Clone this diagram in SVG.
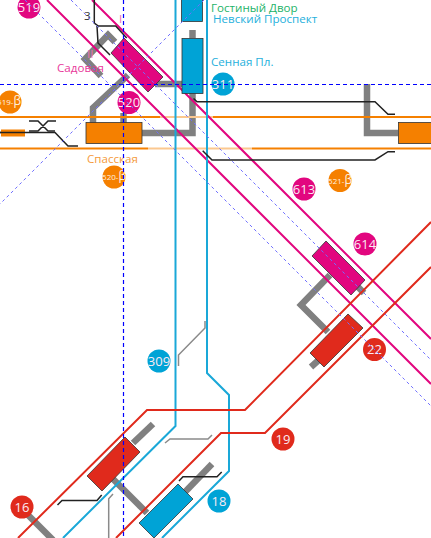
<svg xmlns="http://www.w3.org/2000/svg" width="431" height="538" viewBox="0 0 431 538">
<style>
text{font-family:"Open Sans","Noto Sans",sans-serif}
.lbl{font-size:11.600px}
.n{font-size:13px;fill:#fbeaf3;text-anchor:middle}
.s{font-size:8px;fill:#fff3e0;text-anchor:middle}
.s tspan{font-size:12px}
.g{fill:none;stroke:#808080;stroke-width:6.500;stroke-linejoin:miter}
.tg{fill:none;stroke:#8a8a8a;stroke-width:1.500}
.tb{fill:none;stroke:#222;stroke-width:1.500}
.m{fill:none;stroke:#e2067f;stroke-width:2}
.b{fill:none;stroke:#1aa8d8;stroke-width:2}
.r{fill:none;stroke:#e02a1c;stroke-width:2}
.o{fill:none;stroke:#f58000;stroke-width:2}
.ol{fill:none;stroke:#fbc890;stroke-width:2}
.d{fill:none;stroke:#0000ff;stroke-width:1.200;stroke-dasharray:4 3}
.dd{fill:none;stroke:#7070ff;stroke-width:1;stroke-dasharray:3 3}
.st{stroke:#333;stroke-width:.8}
</style>
<g id="connectors">
<g id="links">
<path class="g" d="M115 42L108 35L85 59L101 76"/>
<path class="g" d="M128 75L93 108V124"/>
<path class="g" d="M123.500 113V124"/>
<path class="g" d="M155 84H183"/>
<path class="g" d="M192.500 30V38"/>
<path class="g" d="M142 133H192.500V93"/>
<path class="g" d="M367 84V133H398"/>
<path class="g" d="M330 275L301 305L328 332"/>
<path class="g" d="M356 285L364 293"/>
<path class="g" d="M321 358L311 367"/>
<path class="g" d="M133 443L153 424"/>
<path class="g" d="M113 479L147 513"/>
<path class="g" d="M185 492L212 464"/>
<path class="g" d="M28 515L53 540"/>
</g>
<g id="lines">
<path class="o" d="M0 117H160M213 117H431M0 148.500H148M252 148.500H431"/>
<path class="ol" d="M160 117H213M148 148.500H252"/>
<path class="m" d="M47 0L431 384M92 0L431 339"/>
<path class="b" d="M175.500 0V426L63 538"/>
<path class="b" d="M207 0V373L229 395V471L162 538"/>
<path class="r" d="M431 222L245 410H147L18 538"/>
<path class="r" d="M431 267L265 433H221L116 538"/>
</g>
<g id="tracks">
<path class="tb" d="M0 132.500H55L68 146H78"/>
<path class="tb" d="M29 121H38L48 131H55M56 121H48L38 131H29"/>
<path class="tb" d="M94.300 0V23L98.300 26H115.700L126.700 38"/>
<path class="tb" d="M97 26L98 43L110 55"/>
<path class="tb" d="M193.500 98.500L197 101.700H375L388 114.300H395"/>
<path class="tb" d="M202.700 150.700L212 160H375L388 151.700H395"/>
<path class="tb" d="M57.500 505L62 500.500H97L101.700 495"/>
<path class="tb" d="M179 481L183 476.700H217L221.700 472"/>
<path class="tg" d="M178.500 366V355L205 328V321"/>
<path class="tg" d="M165 443L170 439H208L212 435"/>
<path class="tg" d="M113 494L108.700 498.700V538"/>
</g>
</g>
<g id="gostiny"><rect class="st" x="181.500" y="-2" width="21" height="23.500" fill="#00a3d6"/><text class="lbl" x="211" y="12" fill="#1db368">Гостиный Двор</text></g>
<g id="sennaya"><rect class="st" x="182" y="38.500" width="21" height="55" fill="#00a3d6"/><text class="lbl" x="211" y="66" fill="#25b0dc">Сенная Пл.</text></g>
<g id="nevsky"><text class="lbl" x="213" y="23" fill="#25b0dc">Невский Проспект</text></g>
<g id="sadovaya"><polygon class="st" points="124,38 163,77 148,92 111,53" fill="#e2067f"/><text class="lbl" x="57" y="72" fill="#e8389a">Садовая</text><text class="lbl" x="119" y="23" fill="#ee70b5">I</text><text class="lbl" x="87" y="58" fill="#ee70b5">II</text></g>
<g id="n3"><text class="lbl" x="84" y="20" fill="#333">3</text></g>
<g id="spasskaya"><rect class="st" x="86" y="122.500" width="56" height="21" fill="#f58000"/><text class="lbl" x="87" y="163" fill="#f59a3a">Спасская</text></g>
<g id="left-orange"><rect x="1" y="129.500" width="24" height="7" fill="#f58000"/><path class="tb" d="M0 132.500H25"/></g>
<g id="right-orange"><rect class="st" x="398.500" y="122.500" width="36" height="21" fill="#f58000"/></g>
<g id="st614"><polygon class="st" points="326,241 365,280 351,295 312,256" fill="#e2067f"/></g>
<g id="st22"><polygon class="st" points="348,314 363,328 324,367 310,353" fill="#e02a1c"/></g>
<g id="st-red"><polygon class="st" points="125,437 140,452 102,491 87,476" fill="#e02a1c"/></g>
<g id="st-blue"><polygon class="st" points="178,484 193,499 154,538 139,523" fill="#00a3d6"/></g>
<g id="c519"><circle cx="29" cy="7" r="11.500" fill="#e2067f"/><text class="n" x="29" y="11.500">519</text></g>
<g id="c520"><circle cx="129" cy="102.500" r="11.500" fill="#e2067f"/><text class="n" x="129" y="107">520</text></g>
<g id="c613"><circle cx="304" cy="189" r="11.500" fill="#e2067f"/><text class="n" x="304" y="193.500">613</text></g>
<g id="c614"><circle cx="365" cy="244" r="11.500" fill="#e2067f"/><text class="n" x="365" y="248.500">614</text></g>
<g id="c311"><circle cx="223" cy="84" r="11.500" fill="#00a3d6"/><text class="n" x="223" y="88.500">311</text></g>
<g id="c309"><circle cx="159" cy="361" r="11.500" fill="#00a3d6"/><text class="n" x="159" y="365.500">309</text></g>
<g id="c18"><circle cx="219" cy="501" r="11.500" fill="#00a3d6"/><text class="n" x="219" y="505.500">18</text></g>
<g id="c22"><circle cx="374.500" cy="349.500" r="11.500" fill="#e02a1c"/><text class="n" x="374.500" y="354">22</text></g>
<g id="c19"><circle cx="283" cy="439" r="11.500" fill="#e02a1c"/><text class="n" x="283" y="443.500">19</text></g>
<g id="c16"><circle cx="22" cy="507" r="11.500" fill="#e02a1c"/><text class="n" x="22" y="511.500">16</text></g>
<g id="c519b"><circle cx="10" cy="102" r="11.500" fill="#f58000"/><text class="s" x="9" y="105">519-<tspan>β</tspan></text></g>
<g id="c520b"><circle cx="114" cy="177" r="11.500" fill="#f58000"/><text class="s" x="114" y="180">520-<tspan>β</tspan></text></g>
<g id="c521b"><circle cx="340" cy="180.500" r="11.500" fill="#f58000"/><text class="s" x="340" y="183.500">521-<tspan>β</tspan></text></g>
<g id="guides">
<path class="dd" d="M71 0L431 360M25 0L431 406M204 0L0 204"/>
<path class="d" d="M0 84.500H431M123.500 0V538"/>
</g>
</svg>
